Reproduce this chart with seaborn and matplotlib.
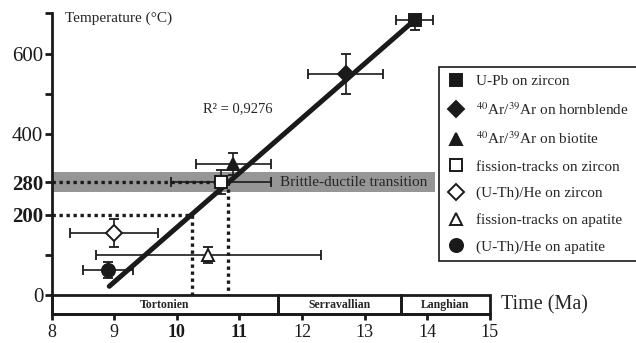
import numpy as np
import matplotlib
matplotlib.use("Agg")
import matplotlib.pyplot as plt
import seaborn as sns

# Thermochronology data (age in Ma, temperature in degC)
methods = ["U-Pb on zircon",
           "$^{40}$Ar/$^{39}$Ar on hornblende",
           "$^{40}$Ar/$^{39}$Ar on biotite",
           "fission-tracks on zircon",
           "(U-Th)/He on zircon",
           "fission-tracks on apatite",
           "(U-Th)/He on apatite"]
age = [13.8, 12.7, 10.9, 10.7, 9.0, 10.5, 8.9]
age_err = [0.3, 0.6, 0.6, 0.8, 0.7, 1.8, 0.4]
temp = [683, 550, 325, 281, 155, 100, 62]
temp_err = [25, 50, 27, 30, 35, 20, 20]

# trend line ends
fit_age = [8.92, 13.8]
fit_temp = [22, 683]

# closure temperatures read on the trend
ref_temp = [200, 280]
ref_age = [10.24, 10.81]

# brittle-ductile band
band_temp = [256, 306]
band_end = 14.12

# stratigraphic stages
stage_names = ["Tortonien", "Serravallian", "Langhian"]
stage_bounds = [8, 11.62, 13.59, 15]

sns.set_theme(style="ticks")
plt.rcParams['font.family'] = ['Liberation Serif', 'DejaVu Serif']
plt.rcParams['mathtext.fontset'] = 'stix'

mk = ['s', 'D', '^', 's', 'D', '^', 'o']
ms = [8.8, 8.0, 8.6, 8.4, 8.0, 8.6, 9.4]
face = ['k', 'k', 'k', 'w', 'w', 'w', 'k']

fig = plt.figure(figsize=(6.36, 3.43), dpi=100)
ax = fig.add_axes([0.0813, 0.0837, 0.6887, 0.8776])
ax.set_xlim(8, 15)
ax.set_ylim(-47.5, 700)

# gray band
ax.fill_between([8, band_end], band_temp[0], band_temp[1], color='#969696', lw=0, zorder=1)
ax.text(11.65, 279, "Brittle-ductile transition", fontsize=11, va='center', ha='left', zorder=2)

# dotted reference lines
for t, a in zip(ref_temp, ref_age):
    ax.plot([8, a], [t, t], color='k', lw=2.4, ls=(0, (1, 1.1)), zorder=2)
    ax.plot([a, a], [t, 0], color='k', lw=2.4, ls=(0, (1, 1.1)), zorder=2)

# trend line
sns.lineplot(x=fit_age, y=fit_temp, color='k', lw=3.6, ax=ax, zorder=3)
ax.text(10.41, 464, "R² = 0,9276", fontsize=10.5, va='center', ha='left')

# points
for i in range(len(methods)):
    ax.errorbar(age[i], temp[i], xerr=age_err[i], yerr=temp_err[i], fmt='none',
                ecolor='k', elinewidth=1.2, capsize=3.5, capthick=1.3, zorder=4)
    ax.plot(age[i], temp[i], marker=mk[i], ms=ms[i], mfc=face[i], mec='k', mew=1.4,
            ls='none', label=methods[i], zorder=5)

# time scale bar
for j, name in enumerate(stage_names):
    x0, x1 = stage_bounds[j], stage_bounds[j + 1]
    ax.add_patch(plt.Rectangle((x0, -47.5), x1 - x0, 47.5, fill=False, ec='k', lw=2,
                               zorder=6, clip_on=False))
    ax.text((x0 + x1) / 2, -23.5, name, fontsize=8.5, fontweight='bold', ha='center', va='center')

ax.text(15.18, -24, "Time (Ma)", fontsize=14.5, va='center', ha='left', clip_on=False)
ax.text(8.21, 688, "Temperature (°C)", fontsize=11, va='center', ha='left')

# axes styling
sns.despine(ax=ax)
for s in ['left', 'bottom']:
    ax.spines[s].set_linewidth(2)
    ax.spines[s].set_color('k')
ax.tick_params(axis='y', direction='out', length=5, width=2, colors='k', pad=1)
ax.tick_params(axis='x', direction='out', length=4, width=2, colors='k', pad=3)

ax.set_xticks(range(8, 16))
ax.set_xticklabels([str(v) for v in range(8, 16)], fontsize=13)
yt = [0, 100, 200, 280, 400, 500, 600, 700]
ax.set_yticks(yt)
ax.set_yticklabels(['0', '', '200', '280', '400', '', '600', ''], fontsize=15)
for lab in ax.get_xticklabels():
    if lab.get_text() in ('10', '11'):
        lab.set_fontweight('bold')
for lab in ax.get_yticklabels():
    if lab.get_text() in ('200', '280'):
        lab.set_fontweight('bold')

leg = ax.legend(loc='upper left', bbox_to_anchor=(0.690, 0.805), bbox_transform=fig.transFigure,
                fontsize=11, frameon=True, fancybox=False, framealpha=1, edgecolor='k',
                borderpad=0.5, labelspacing=0.84, handletextpad=0.75, handlelength=1.2,
                borderaxespad=0)
leg.get_frame().set_linewidth(1.2)

fig.savefig("out.png", dpi=100)
